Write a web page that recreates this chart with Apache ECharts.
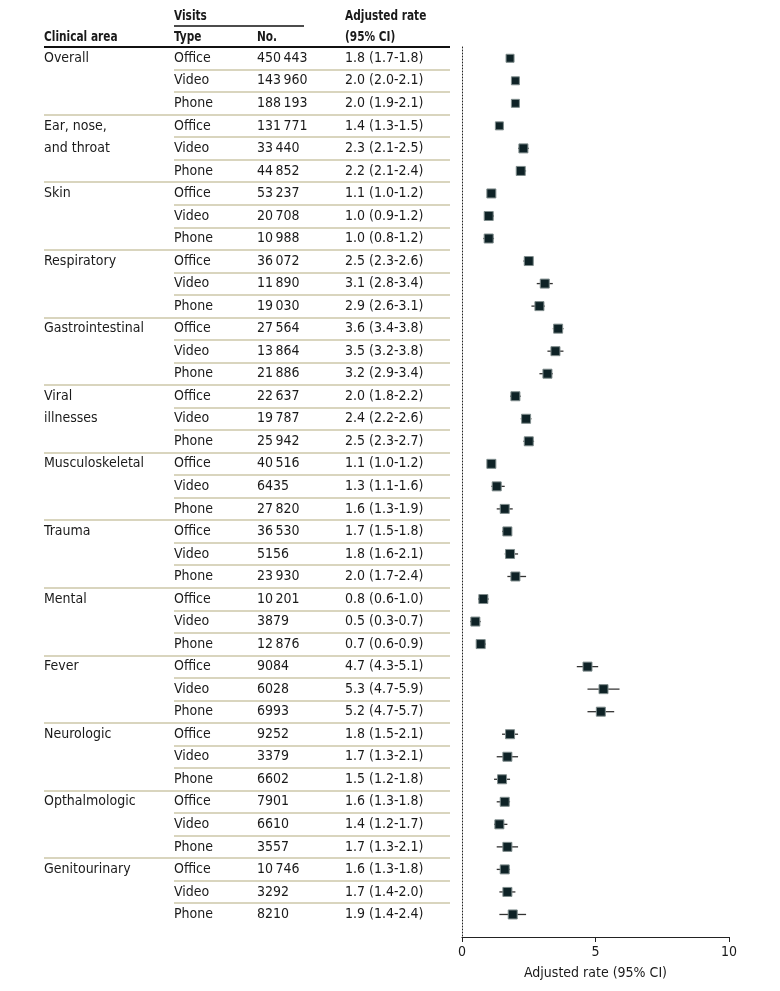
<!DOCTYPE html>
<html>
<head>
<meta charset="utf-8">
<script src="https://cdn.jsdelivr.net/npm/echarts@6/dist/echarts.min.js"></script>
<style>
  html, body { margin: 0; padding: 0; background: #fff; }
  #chart { width: 780px; height: 991px; }
</style>
</head>
<body>
<div id="chart"></div>
<script>
// 临床领域（多行名称拆成数组）
const areaLines = [
    ['Overall'],
    ['Ear, nose,', 'and throat'],
    ['Skin'],
    ['Respiratory'],
    ['Gastrointestinal'],
    ['Viral', 'illnesses'],
    ['Musculoskeletal'],
    ['Trauma'],
    ['Mental'],
    ['Fever'],
    ['Neurologic'],
    ['Opthalmologic'],
    ['Genitourinary']
];
const visitTypes = ['Office', 'Video', 'Phone'];

// 就诊次数 (Office, Video, Phone)
const visitCounts = [
    [450443, 143960, 188193],
    [131771, 33440, 44852],
    [53237, 20708, 10988],
    [36072, 11890, 19030],
    [27564, 13864, 21886],
    [22637, 19787, 25942],
    [40516, 6435, 27820],
    [36530, 5156, 23930],
    [10201, 3879, 12876],
    [9084, 6028, 6993],
    [9252, 3379, 6602],
    [7901, 6610, 3557],
    [10746, 3292, 8210]
];

// 调整后比率及 95% CI
const rates = [
    [1.8, 2.0, 2.0], [1.4, 2.3, 2.2], [1.1, 1.0, 1.0], [2.5, 3.1, 2.9],
    [3.6, 3.5, 3.2], [2.0, 2.4, 2.5], [1.1, 1.3, 1.6], [1.7, 1.8, 2.0],
    [0.8, 0.5, 0.7], [4.7, 5.3, 5.2], [1.8, 1.7, 1.5], [1.6, 1.4, 1.7],
    [1.6, 1.7, 1.9]
];
const ciLow = [
    [1.7, 2.0, 1.9], [1.3, 2.1, 2.1], [1.0, 0.9, 0.8], [2.3, 2.8, 2.6],
    [3.4, 3.2, 2.9], [1.8, 2.2, 2.3], [1.0, 1.1, 1.3], [1.5, 1.6, 1.7],
    [0.6, 0.3, 0.6], [4.3, 4.7, 4.7], [1.5, 1.3, 1.2], [1.3, 1.2, 1.3],
    [1.3, 1.4, 1.4]
];
const ciHigh = [
    [1.8, 2.1, 2.1], [1.5, 2.5, 2.4], [1.2, 1.2, 1.2], [2.6, 3.4, 3.1],
    [3.8, 3.8, 3.4], [2.2, 2.6, 2.7], [1.2, 1.6, 1.9], [1.8, 2.1, 2.4],
    [1.0, 0.7, 0.9], [5.1, 5.9, 5.7], [2.1, 2.1, 1.8], [1.8, 1.7, 2.1],
    [1.8, 2.0, 2.4]
];

const xTicks = [0, 5, 10];

// 字体与颜色
const FONT = "'Liberation Sans Narrow', 'DejaVu Sans Condensed', 'Liberation Sans', sans-serif";
const TEXT = '#1a1a1a';
const RULE = '#cdc7a9';

// 表格列位置（相对表格左边 44px）
const COL_AREA = 0, COL_TYPE = 130, COL_NO = 213, COL_RATE = 301;

function fmtCount(n) {
    if (n < 10000) return String(n);
    return String(n).replace(/\B(?=(\d{3})+(?!\d))/g, '\u2009');
}

// 生成行数据
const pointData = [];
const ciData = [];
const textData = [];
const groupRules = [];
const rowRules = [];
areaLines.forEach((lines, g) => {
    lines.forEach((t, k) => textData.push([COL_AREA, g * 3 + k, t]));
    visitTypes.forEach((type, t) => {
        const row = g * 3 + t;
        const r = rates[g][t], lo = ciLow[g][t], hi = ciHigh[g][t];
        pointData.push([r, row, visitCounts[g][t]]);
        ciData.push([lo, hi, row]);
        textData.push([COL_TYPE, row, type]);
        textData.push([COL_NO, row, fmtCount(visitCounts[g][t])]);
        textData.push([COL_RATE, row, r.toFixed(1) + ' (' + lo.toFixed(1) + '-' + hi.toFixed(1) + ')']);
        if (t < 2) rowRules.push({ yAxis: row + 0.5 });
    });
    if (g > 0) groupRules.push({ yAxis: g * 3 - 0.5 });
});

const yCommon = {
    type: 'value', min: -0.5, max: 39, inverse: true,
    axisTick: { show: false }, axisLabel: { show: false }, splitLine: { show: false }
};
const xHidden = {
    type: 'value', min: 0, max: 406, show: false
};

const chart = echarts.init(document.getElementById('chart'));

// 表头文字（横向压缩以接近原图窄体字）
function headText(text, left, top) {
    return {
        type: 'text', x: left, y: top, scaleX: 0.84,
        style: { text: text, font: 'bold 14px ' + FONT, fill: TEXT }
    };
}

const option = {
    backgroundColor: '#fff',
    animation: false,
    textStyle: { fontFamily: FONT },
    grid: [
        { left: 462, right: 51, top: 47, bottom: 54 },
        { left: 44, right: 330, top: 47, bottom: 54 },
        { left: 174, right: 330, top: 47, bottom: 54 }
    ],
    xAxis: [
        {
            gridIndex: 0, type: 'value', min: 0, max: 10, interval: 5,
            axisLine: { onZero: false, lineStyle: { color: '#222', width: 1.2 } },
            axisTick: { show: true, length: 5, lineStyle: { color: '#222' } },
            axisLabel: {
                fontSize: 14, color: TEXT, margin: 8, fontFamily: FONT,
                formatter: v => (xTicks.includes(v) ? String(v) : '')
            },
            splitLine: { show: false },
            name: 'Adjusted rate (95% CI)', nameLocation: 'middle', nameGap: 29,
            nameTextStyle: { fontSize: 14, color: TEXT, fontFamily: FONT }
        },
        Object.assign({ gridIndex: 1 }, xHidden),
        Object.assign({ gridIndex: 2 }, xHidden)
    ],
    yAxis: [
        Object.assign({}, yCommon, {
            gridIndex: 0,
            axisLine: { show: true, onZero: false, lineStyle: { color: '#222', type: [1, 2], width: 1 } }
        }),
        Object.assign({}, yCommon, { gridIndex: 1, show: false }),
        Object.assign({}, yCommon, { gridIndex: 2, show: false })
    ],
    series: [
        {
            // 置信区间
            type: 'custom',
            xAxisIndex: 0, yAxisIndex: 0,
            data: ciData,
            z: 2,
            renderItem: function (params, api) {
                const p1 = api.coord([api.value(0), api.value(2)]);
                const p2 = api.coord([api.value(1), api.value(2)]);
                return {
                    type: 'line',
                    shape: { x1: p1[0], y1: p1[1], x2: p2[0], y2: p2[1] },
                    style: { stroke: '#333', lineWidth: 1.3 }
                };
            }
        },
        {
            // 点估计
            type: 'scatter',
            xAxisIndex: 0, yAxisIndex: 0,
            data: pointData,
            z: 3,
            symbol: 'rect',
            symbolSize: v => (v[2] > 100000 ? 8 : 9),
            itemStyle: { color: '#0e2226', borderColor: '#7f8c8c', borderWidth: 1, opacity: 1 }
        },
        {
            // 表格文字 + 组分隔线
            type: 'scatter',
            xAxisIndex: 1, yAxisIndex: 1,
            data: textData,
            symbolSize: 0,
            silent: true,
            itemStyle: { opacity: 1 },
            label: {
                show: true, position: 'right', distance: 0,
                fontSize: 14, color: TEXT, fontFamily: FONT,
                formatter: p => p.data[2]
            },
            markLine: {
                silent: true, symbol: 'none', animation: false,
                label: { show: false },
                lineStyle: { color: RULE, width: 1.5, type: 'solid' },
                data: groupRules
            }
        },
        {
            // 组内分隔线
            type: 'scatter',
            xAxisIndex: 2, yAxisIndex: 2,
            data: [],
            markLine: {
                silent: true, symbol: 'none', animation: false,
                label: { show: false },
                lineStyle: { color: RULE, width: 1.5, type: 'solid' },
                data: rowRules
            }
        }
    ],
    graphic: [
        headText('Clinical area', 44, 30),
        headText('Visits', 174, 9),
        headText('Type', 174, 30),
        headText('No.', 257, 30),
        headText('Adjusted rate', 345, 9),
        headText('(95% CI)', 345, 30),
        { type: 'line', shape: { x1: 174, y1: 26, x2: 304, y2: 26 }, style: { stroke: '#111', lineWidth: 1.5 } },
        { type: 'line', shape: { x1: 44, y1: 47, x2: 450, y2: 47 }, style: { stroke: '#111', lineWidth: 2 } }
    ]
};

chart.setOption(option);
</script>
</body>
</html>
